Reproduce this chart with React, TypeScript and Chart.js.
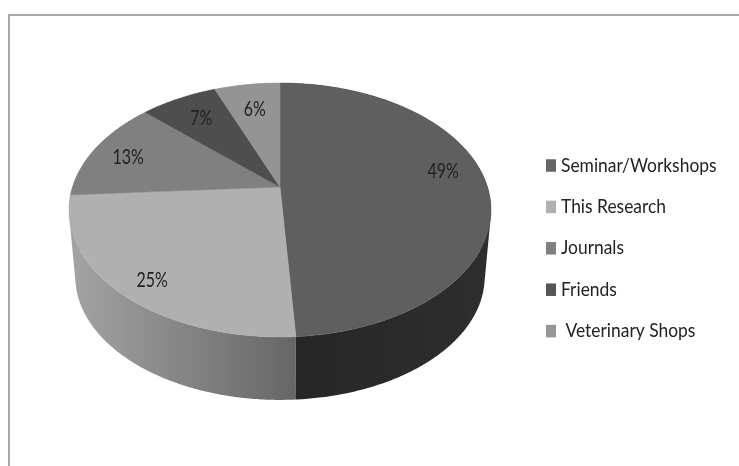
import React, { useEffect, useRef } from "react";
import { Chart, registerables } from "chart.js";

Chart.register(...registerables);

const categories = ["Seminar/Workshops", "This Research", "Journals", "Friends", " Veterinary Shops"];
const shares = [49, 25, 13, 7, 6];
const faceColors = ["#5f5f5f", "#b0b0b0", "#808080", "#4e4e4e", "#949494"];
const legendColors = ["#666666", "#b0b0b0", "#808080", "#555555", "#969696"];

// Side wall shading per slice, left-to-right gradient stops.
const wallColors = [
  ["#262626", "#2e2e2e"],
  ["#a4a4a4", "#666666"],
  ["#a4a4a4", "#a4a4a4"],
  ["#a4a4a4", "#a4a4a4"],
  ["#a4a4a4", "#a4a4a4"],
];

// Percent label placement inside each slice: fraction of the radius, angle shift in radians.
const labelRadius = [0.815, 0.861, 0.804, 0.75, 0.73];
const labelAngleShift = [-0.13, -0.042, -0.03, 0, 0];

// Camera model of the tilted disc.
const top = { cx: 280, cy: 187, rx: 207.5, ry: 122.8 };
const bottom = { cx: 280, cy: 254.5, rx: 201.3, ry: 119.1 };
const tilt = 0.181;

const legendLayout = { x: 546, y: 165.5, step: 41.4, box: [10, 12.5], gap: 5 };
const legendText = { font: "19px Lato, sans-serif", squeeze: 0.917 };
const percentText = { font: "21px Lato, sans-serif", squeeze: 0.76 };
const textColor = "#222222";

type Disc = typeof top;
type Pt = [number, number];

function project(d: Disc, angle: number, r = 1): Pt {
  const u = Math.cos(angle) * r;
  const v = Math.sin(angle) * r;
  const w = 1 - tilt * v;
  return [d.cx + (d.rx * u) / w, d.cy + (d.ry * v) / w];
}

function sampleAngles(start: number, end: number): number[] {
  const n = Math.max(2, Math.ceil((end - start) / 0.01));
  return Array.from({ length: n + 1 }, (_, i) => start + ((end - start) * i) / n);
}

// Adds one wall facet as a subpath, always wound the same way so folded facets still fill.
function addFacet(ctx: CanvasRenderingContext2D, quad: Pt[]) {
  let area = 0;
  quad.forEach(([x, y], i) => {
    const [nx, ny] = quad[(i + 1) % quad.length];
    area += x * ny - nx * y;
  });
  const pts = area < 0 ? [...quad].reverse() : quad;
  pts.forEach(([x, y], i) => (i === 0 ? ctx.moveTo(x, y) : ctx.lineTo(x, y)));
  ctx.closePath();
}

// Draws text with a horizontal squeeze, for the tall narrow lettering of this figure.
function squeezedText(
  ctx: CanvasRenderingContext2D,
  text: string,
  x: number,
  y: number,
  style: { font: string; squeeze: number },
) {
  ctx.save();
  ctx.font = style.font;
  ctx.translate(x, y);
  ctx.scale(style.squeeze, 1);
  ctx.fillText(text, 0, 0);
  ctx.restore();
}

const pie3d = {
  id: "pie3d",
  beforeDatasetsDraw(chart: Chart) {
    const { ctx } = chart;
    const arcs = chart.getDatasetMeta(0).data as any[];
    ctx.save();

    // Walls first, rear slices before front ones so the nearest wall stays on top.
    [2, 3, 4, 1, 0].forEach((i) => {
      const { startAngle, endAngle } = arcs[i];
      const angles = sampleAngles(startAngle, endAngle);
      const seamX = project(top, i === 0 ? endAngle : startAngle)[0];
      const edgeX = i === 0 ? top.cx + top.rx * 1.017 : top.cx - top.rx * 1.017;
      const g = i === 0 ? ctx.createLinearGradient(seamX, 0, edgeX, 0) : ctx.createLinearGradient(edgeX, 0, seamX, 0);
      g.addColorStop(0, wallColors[i][0]);
      g.addColorStop(1, wallColors[i][1]);
      ctx.fillStyle = g;
      ctx.beginPath();
      for (let k = 0; k < angles.length - 1; k++) {
        addFacet(ctx, [
          project(top, angles[k]),
          project(top, angles[k + 1]),
          project(bottom, angles[k + 1]),
          project(bottom, angles[k]),
        ]);
      }
      ctx.fill();
    });

    // Top face slices.
    arcs.forEach((arc, i) => {
      ctx.fillStyle = faceColors[i];
      ctx.strokeStyle = faceColors[i];
      ctx.lineWidth = 0.5;
      ctx.beginPath();
      ctx.moveTo(top.cx, top.cy);
      sampleAngles(arc.startAngle, arc.endAngle).forEach((a) => {
        const [x, y] = project(top, a);
        ctx.lineTo(x, y);
      });
      ctx.closePath();
      ctx.fill();
      ctx.stroke();
    });

    // Percent labels.
    ctx.fillStyle = textColor;
    ctx.textAlign = "center";
    ctx.textBaseline = "middle";
    arcs.forEach((arc, i) => {
      const mid = (arc.startAngle + arc.endAngle) / 2 + labelAngleShift[i];
      const [x, y] = project(top, mid, labelRadius[i]);
      squeezedText(ctx, `${shares[i]}%`, x, y, percentText);
    });

    // Legend column.
    const { x, y, step, box, gap } = legendLayout;
    ctx.textAlign = "left";
    categories.forEach((name, i) => {
      const rowY = y + i * step;
      ctx.fillStyle = legendColors[i];
      ctx.fillRect(x, rowY - box[1] / 2, box[0], box[1]);
      ctx.fillStyle = textColor;
      squeezedText(ctx, name, x + box[0] + gap, rowY, legendText);
    });

    ctx.restore();
    return false;
  },
};

export default function App() {
  const ref = useRef<HTMLCanvasElement>(null);

  useEffect(() => {
    const chart = new Chart(ref.current!, {
      type: "pie",
      data: {
        labels: categories,
        datasets: [{ data: shares, backgroundColor: legendColors, borderWidth: 0 }],
      },
      plugins: [pie3d],
      options: {
        responsive: false,
        animation: false,
        plugins: {
          tooltip: { enabled: false },
          legend: { display: false },
        },
      },
    });
    return () => chart.destroy();
  }, []);

  return (
    <div style={{ position: "fixed", left: 0, top: 0, width: 739, height: 466, background: "#ffffff" }}>
      <div
        style={{
          position: "absolute",
          left: 8,
          top: 14,
          right: 0,
          bottom: 0,
          borderLeft: "2px solid #a8a8a8",
          borderTop: "2px solid #a8a8a8",
        }}
      />
      <canvas ref={ref} width={739} height={466} style={{ position: "absolute", left: 0, top: 0 }} />
    </div>
  );
}
